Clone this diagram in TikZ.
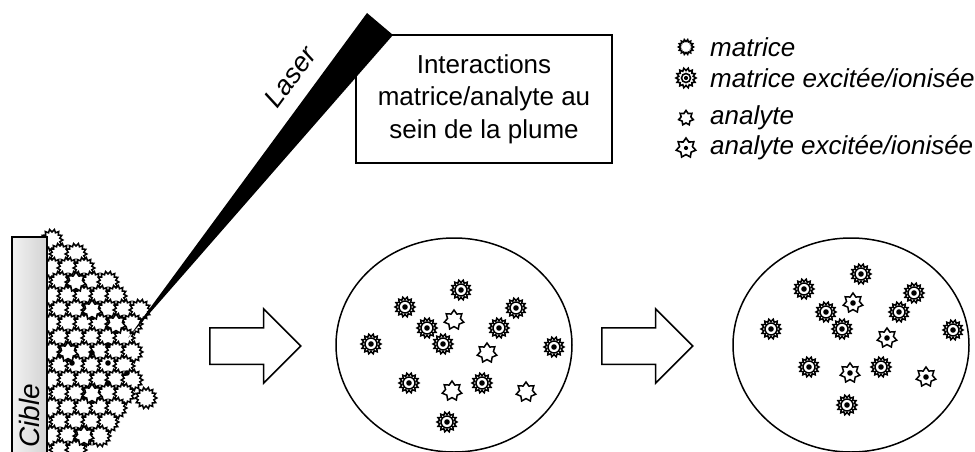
\documentclass[tikz,border=0pt]{standalone}
\usepackage{fontspec}
\setmainfont{Liberation Sans}
\usetikzlibrary{shapes.geometric,shapes.arrows}

\begin{document}
\begin{tikzpicture}[x=1pt,y=-1pt,
  partline/.style={line width=1.3pt},
  pics/matrice/.style={code={\draw[fill=white,partline] (0:10) \foreach \a in {0,...,13}{ -- ({\a*360/14+180/14}:7.4) -- ({(\a+1)*360/14}:10)} -- cycle;}},
  pics/matricex/.style={code={\pic{matrice}; \draw[partline] (0,0) circle (6); \fill (0,0) circle (2.8);}},
  pics/analyte/.style={code={\draw[fill=white,partline] (-90:10) \foreach \a in {0,...,6}{ -- ({\a*360/7-90+180/7}:6.6) -- ({(\a+1)*360/7-90}:10)} -- cycle;}},
  pics/analytex/.style={code={\pic{analyte}; \fill (0,0) circle (2.8);}},
  leg/.style={anchor=west,inner sep=0pt,font=\itshape\fontsize{26}{30}\selectfont},
  bigarrow/.style={single arrow,draw,fill=white,line width=1.5pt,minimum height=91pt,single arrow head extend=19pt,inner xsep=0pt,inner ysep=17.5pt,anchor=west},
  plume/.style={ellipse,draw,line width=1.5pt,minimum width=236pt,minimum height=214pt}]
\useasboundingbox (0,0) rectangle (975,452);

% amas de matrice sur la cible
\begin{scope}[partline/.style={line width=1.5pt}]
\foreach \y/\xo/\n in {240/52/1,254/60/2,268/52/3,282/60/4,296/52/5,310/60/6,324/52/6,338/60/5,352/52/6,366/60/5,380/52/6,394/60/5,408/52/5,422/60/4,436/52/4,450/60/2}
  \foreach \k in {1,...,\n}
    \pic[scale=1.08] at ({\xo+16*(\k-1)},\y) {matrice};
\pic[scale=1.08] at (146,398) {matrice};
\foreach \x/\y in {76/282,92/310,116/324,68/352,92/394,84/436}
  \pic at (\x,\y) {analyte};
\foreach \x/\y in {108/345,92/353,72/363,108/363,127/373,108/383}
  \fill (\x,\y) circle (2.8);
\end{scope}

\draw[line width=1.2pt,left color=gray!10,right color=gray!35] (12,237) rectangle (47,460);
\node[rotate=90,anchor=west,font=\itshape\fontsize{28}{30}\selectfont] (cible) at (29,451) {Cible};

\node[draw,fill=white,line width=1.5pt,minimum width=256pt,minimum height=128pt,align=center,font=\fontsize{26}{32.5}\selectfont] (interac) at (484,99) {Interactions\\matrice/analyte au\\sein de la plume};

\coordinate (impact) at (128,338);
\fill (impact) -- (367,13) -- (393,35) -- cycle;
\node[rotate=53.7,inner sep=0pt,font=\itshape\fontsize{27}{30}\selectfont] (laser) at (290,77) {Laser};

\node[bigarrow] (arrowA) at (209,346) {};
\node[bigarrow] (arrowB) at (601,346) {};

\begin{scope}[partline/.style={line width=1.5pt}]
\node[plume] (plumeA) at (454,345) {};
\foreach \x/\y in {461/290,405/307,516/308,427/328,499/328,443/344,371/344,554/347,409/383,482/383,447/422}
  \pic at (\x,\y) {matricex};
\foreach \x/\y in {454/320,487/353,452/391,526/392}
  \pic at (\x,\y) {analyte};

\node[plume] (plumeB) at (851,345) {};
\foreach \x/\y in {861/274,804/289,914/293,826/312,899/312,842/329,771/329,953/330,809/367,881/367,847/405}
  \pic at (\x,\y) {matricex};
\foreach \x/\y in {853/303,887/338,850/373,926/377}
  \pic at (\x,\y) {analytex};
\end{scope}

\begin{scope}[partline/.style={line width=1.6pt}]
\pic[scale=0.75] at (686,47) {matrice};
\pic[scale=0.75] at (686,78) {matricex};
\pic[scale=0.75] at (686,118) {analyte};
\pic[scale=0.75] at (686,148) {analytex};
\end{scope}
\node[leg] (lmat) at (710,47) {matrice};
\node[leg] (lmatx) at (710,78) {matrice excitée/ionisée};
\node[leg] (lana) at (710,118) {analyte};
\node[leg] (lanax) at (710,148) {analyte excitée/ionisée};
\end{tikzpicture}
\end{document}
